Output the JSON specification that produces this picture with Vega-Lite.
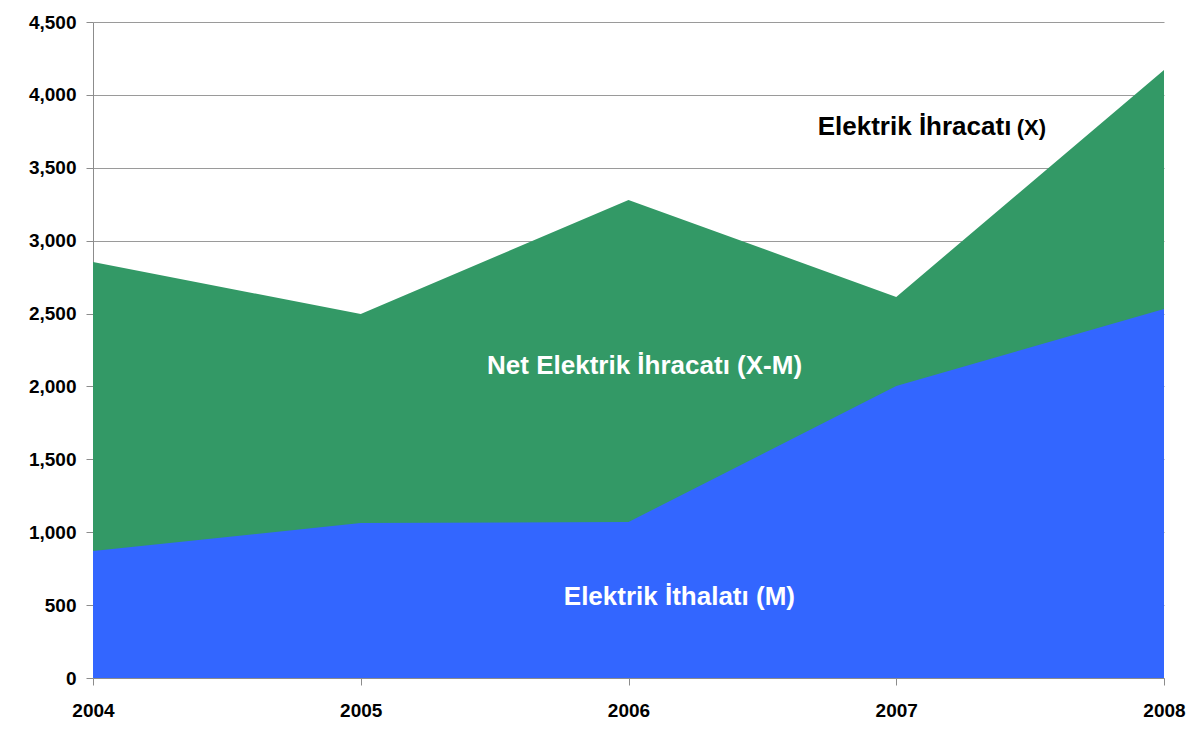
{
  "$schema": "https://vega.github.io/schema/vega-lite/v6.json",
  "autosize": "none",
  "width": 1071,
  "height": 656,
  "padding": {"left": 93, "top": 22, "right": 37, "bottom": 53},
  "background": "white",
  "config": {
    "view": {"stroke": null},
    "font": "Liberation Sans",
    "axis": {
      "labelFont": "Liberation Sans",
      "labelFontWeight": "bold",
      "labelFontSize": 19,
      "labelColor": "#000000",
      "domainColor": "#8c8c8c",
      "tickColor": "#8c8c8c",
      "gridColor": "#9a9a9a",
      "tickSize": 7,
      "title": null
    }
  },
  "datasets": {
    "series": [
      {"year": 2004, "series": "Elektrik İhracatı (X)", "value": 2854},
      {"year": 2005, "series": "Elektrik İhracatı (X)", "value": 2497},
      {"year": 2006, "series": "Elektrik İhracatı (X)", "value": 3279},
      {"year": 2007, "series": "Elektrik İhracatı (X)", "value": 2614},
      {"year": 2008, "series": "Elektrik İhracatı (X)", "value": 4171},
      {"year": 2004, "series": "Elektrik İthalatı (M)", "value": 871},
      {"year": 2005, "series": "Elektrik İthalatı (M)", "value": 1063},
      {"year": 2006, "series": "Elektrik İthalatı (M)", "value": 1070},
      {"year": 2007, "series": "Elektrik İthalatı (M)", "value": 2003},
      {"year": 2008, "series": "Elektrik İthalatı (M)", "value": 2531}
    ],
    "labels": [
      {"id": "x1", "text": "Elektrik İhracatı", "year": 2007.43, "value": 3780},
      {"id": "x2", "text": "(X)", "year": 2007.45, "value": 3780},
      {"id": "net", "text": "Net Elektrik İhracatı (X-M)", "year": 2006.06, "value": 2140},
      {"id": "imp", "text": "Elektrik İthalatı (M)", "year": 2006.19, "value": 556}
    ]
  },
  "layer": [
    {
      "data": {"name": "series"},
      "transform": [{"filter": "datum.series === 'Elektrik İhracatı (X)'"}],
      "mark": {"type": "area", "color": "#339966", "interpolate": "linear"},
      "encoding": {
        "x": {
          "field": "year", "type": "quantitative",
          "scale": {"domain": [2004, 2008], "nice": false, "zero": false},
          "axis": {"values": [2004, 2005, 2006, 2007, 2008], "format": "d", "grid": false, "labelPadding": 16, "labelFlush": false}
        },
        "y": {
          "field": "value", "type": "quantitative",
          "scale": {"domain": [0, 4500], "nice": false},
          "axis": {"values": [0, 500, 1000, 1500, 2000, 2500, 3000, 3500, 4000, 4500], "format": ",d", "grid": true, "labelPadding": 10}
        }
      }
    },
    {
      "data": {"name": "series"},
      "transform": [{"filter": "datum.series === 'Elektrik İthalatı (M)'"}],
      "mark": {"type": "area", "color": "#3366ff", "interpolate": "linear"},
      "encoding": {
        "x": {"field": "year", "type": "quantitative"},
        "y": {"field": "value", "type": "quantitative"}
      }
    },
    {
      "data": {"name": "labels"},
      "transform": [{"filter": "datum.id === 'x1'"}],
      "mark": {"type": "text", "font": "Liberation Sans", "fontWeight": "bold", "fontSize": 26, "align": "right", "baseline": "middle", "color": "black"},
      "encoding": {
        "x": {"field": "year", "type": "quantitative"},
        "y": {"field": "value", "type": "quantitative"},
        "text": {"field": "text"}
      }
    },
    {
      "data": {"name": "labels"},
      "transform": [{"filter": "datum.id === 'x2'"}],
      "mark": {"type": "text", "font": "Liberation Sans", "fontWeight": "bold", "fontSize": 22, "align": "left", "baseline": "middle", "color": "black", "dy": 1},
      "encoding": {
        "x": {"field": "year", "type": "quantitative"},
        "y": {"field": "value", "type": "quantitative"},
        "text": {"field": "text"}
      }
    },
    {
      "data": {"name": "labels"},
      "transform": [{"filter": "datum.id === 'net' || datum.id === 'imp'"}],
      "mark": {"type": "text", "font": "Liberation Sans", "fontWeight": "bold", "fontSize": 26, "align": "center", "baseline": "middle", "color": "white"},
      "encoding": {
        "x": {"field": "year", "type": "quantitative"},
        "y": {"field": "value", "type": "quantitative"},
        "text": {"field": "text"}
      }
    }
  ]
}
